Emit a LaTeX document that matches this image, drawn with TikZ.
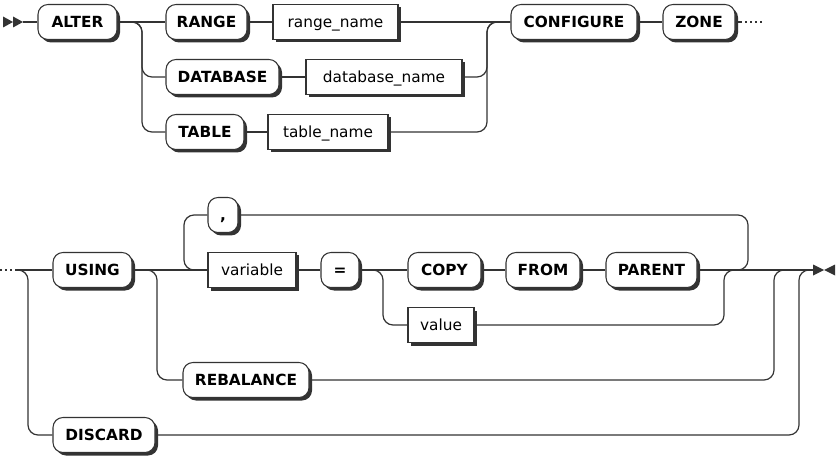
\documentclass[tikz,border=0pt]{standalone}
\usepackage{fontspec}
\setmainfont{DejaVu Sans}
\usetikzlibrary{shadows}
\definecolor{railgray}{HTML}{333333}

\begin{document}
\begin{tikzpicture}[x=0.75pt,y=-0.75pt,
    railbox/.style={draw=railgray, fill=white, line width=0.8pt, inner sep=0pt,
        minimum height=26.25pt, minimum width=0.75pt*#1, text height=8.4pt, text depth=0pt,
        general shadow={fill=railgray, shadow xshift=2.25pt, shadow yshift=-2.25pt}},
    term/.style={railbox=#1, rounded corners=7.5pt, font=\fontsize{11.5}{13}\selectfont\bfseries},
    nonterm/.style={railbox=#1, font=\fontsize{11.5}{13}\selectfont},
    conn/.style={draw=railgray, line width=0.9pt, rounded corners=7.5pt},
    dots/.style={conn, dash pattern=on 1.5pt off 2.25pt}]
    \useasboundingbox (0,0) rectangle (837,459);

    % first line
    \node[term=79] at (77.5,22) (alter) {ALTER};
    \node[term=81] at (206.5,22) (range) {RANGE};
    \node[nonterm=125] at (335.5,22) (rangename) {range\_name};
    \node[term=113] at (222.5,77) (database) {DATABASE};
    \node[nonterm=156] at (384,77) (databasename) {database\_name};
    \node[term=78] at (205,132) (table) {TABLE};
    \node[nonterm=120] at (328,132) (tablename) {table\_name};
    \node[term=126] at (574,22) (configure) {CONFIGURE};
    \node[term=72] at (699,22) (zone) {ZONE};
    \coordinate (start) at (23,22);
    \coordinate (split1) at (142,22);
    \coordinate (join1) at (487,22);
    \coordinate (more1) at (740,22);
    \coordinate (more1end) at (763,22);
    \fill[railgray] (3,16.5) -- (13,22) -- (3,27.5) -- cycle;
    \fill[railgray] (13,16.5) -- (23,22) -- (13,27.5) -- cycle;
    \draw[conn] (start) -- (alter.west);
    \draw[conn] (alter.east) -- (range.west);
    \draw[conn] (alter.east) -- (split1) |- (database.west);
    \draw[conn] (alter.east) -- (split1) |- (table.west);
    \draw[conn] (range.east) -- (rangename.west);
    \draw[conn] (database.east) -- (databasename.west);
    \draw[conn] (table.east) -- (tablename.west);
    \draw[conn] (rangename.east) -- (configure.west);
    \draw[conn] (databasename.east) -| (join1) -- (configure.west);
    \draw[conn] (tablename.east) -| (join1) -- (configure.west);
    \draw[conn] (configure.east) -- (zone.west);
    \draw[conn] (zone.east) -- (more1);
    \draw[dots] (more1) -- (more1end);

    % second line
    \node[term=79] at (92.5,270) (using) {USING};
    \node[term=30] at (223,215) (comma) {,};
    \node[nonterm=88] at (252,270) (variable) {variable};
    \node[term=38] at (340,270) (equals) {=};
    \node[term=73] at (444.5,270) (copy) {COPY};
    \node[term=74] at (543,270) (from) {FROM};
    \node[term=91] at (651.5,270) (parent) {PARENT};
    \node[nonterm=66] at (441,325) (value) {value};
    \node[term=126] at (246,380) (rebalance) {REBALANCE};
    \node[term=102] at (104,435) (discard) {DISCARD};
    \coordinate (more2) at (0,270);
    \coordinate (more2end) at (15,270);
    \coordinate (split2) at (28,270);
    \coordinate (split3) at (157,270);
    \coordinate (loopl) at (184,270);
    \coordinate (split4) at (383,270);
    \coordinate (loopr) at (748,270);
    \coordinate (join2) at (724,270);
    \coordinate (join3) at (774,270);
    \coordinate (join4) at (799,270);
    \coordinate (finish) at (813,270);
    \fill[railgray] (813,264.5) -- (824,270) -- (813,275.5) -- cycle;
    \fill[railgray] (835,264.5) -- (824,270) -- (835,275.5) -- cycle;
    \draw[dots] (more2) -- (more2end);
    \draw[conn] (more2end) -- (using.west);
    \draw[conn] (more2end) -- (split2) |- (discard.west);
    \draw[conn] (using.east) -- (variable.west);
    \draw[conn] (using.east) -- (split3) |- (rebalance.west);
    \draw[conn] (parent.east) -- (loopr) |- (comma.east);
    \draw[conn] (comma.west) -| (loopl) -- (variable.west);
    \draw[conn] (variable.east) -- (equals.west);
    \draw[conn] (equals.east) -- (copy.west);
    \draw[conn] (equals.east) -- (split4) |- (value.west);
    \draw[conn] (copy.east) -- (from.west);
    \draw[conn] (from.east) -- (parent.west);
    \draw[conn] (parent.east) -- (finish);
    \draw[conn] (value.east) -| (join2) -- (finish);
    \draw[conn] (rebalance.east) -| (join3) -- (finish);
    \draw[conn] (discard.east) -| (join4) -- (finish);
\end{tikzpicture}
\end{document}
